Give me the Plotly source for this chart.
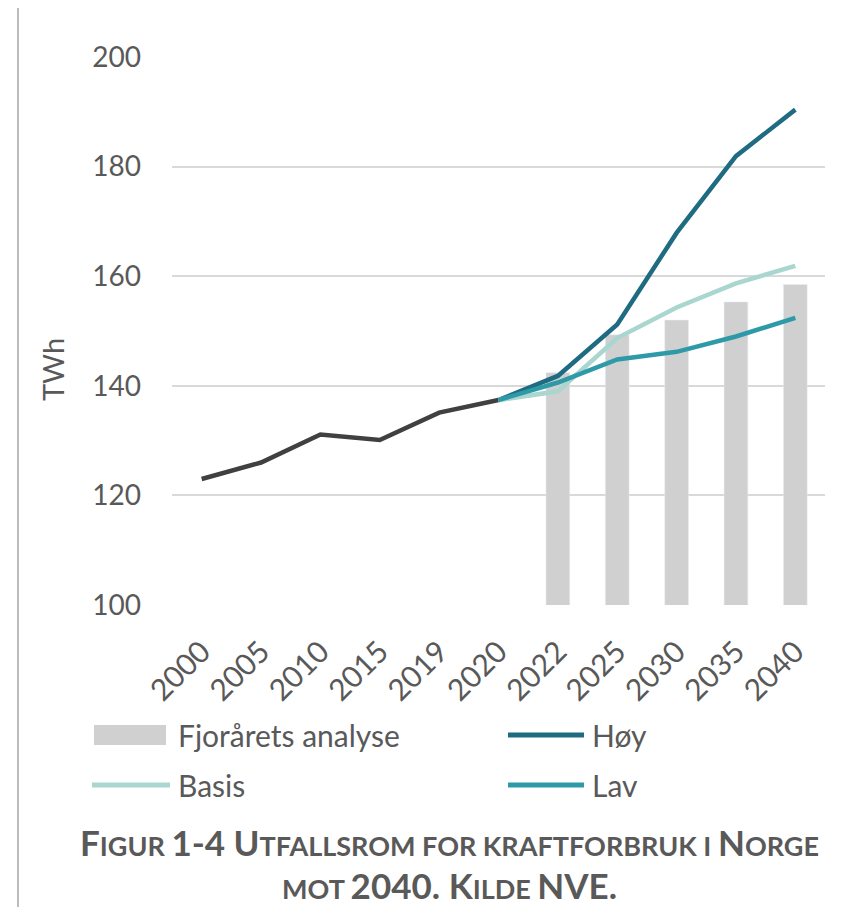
import plotly.graph_objects as go

# ---- data ----
categories = ["2000", "2005", "2010", "2015", "2019", "2020", "2022", "2025", "2030", "2035", "2040"]
hist_years = ["2000", "2005", "2010", "2015", "2019", "2020"]
hist_values = [123.0, 126.0, 131.1, 130.1, 135.1, 137.4]
bar_years = ["2022", "2025", "2030", "2035", "2040"]
bar_values = [142.4, 149.3, 152.0, 155.3, 158.5]
scen_years = ["2020", "2022", "2025", "2030", "2035", "2040"]
hoy_values = [137.4, 141.8, 151.2, 167.9, 181.9, 190.4]
basis_values = [137.4, 139.0, 148.7, 154.3, 158.7, 161.9]
lav_values = [137.4, 140.6, 144.8, 146.2, 149.0, 152.4]
y_ticks = [100, 120, 140, 160, 180, 200]

# ---- style ----
FONT = "Lato"
TXT = "#595959"
C_BAR = "#d0d0d0"
C_HIST = "#404040"
C_HOY = "#1f6b82"
C_BASIS = "#a9d6cf"
C_LAV = "#2e9aa8"

OFF = 8                 # page body margin
W, H = 862 - 2 * OFF, 915 - 2 * OFF
L, R, T, B = 172, 825, 57, 605  # plot area in reference pixels


def px(x):
    return (x - L) / (R - L)


def py(y):
    return (B - y) / (B - T)


fig = go.Figure()
fig.add_trace(go.Bar(x=bar_years, y=bar_values, marker_color=C_BAR, width=0.4,
                     name="Fjorårets analyse", showlegend=False))
fig.add_trace(go.Scatter(x=hist_years, y=hist_values, mode="lines",
                         line=dict(color=C_HIST, width=4.5), showlegend=False))
fig.add_trace(go.Scatter(x=scen_years, y=hoy_values, mode="lines", name="Høy",
                         line=dict(color=C_HOY, width=4.5), showlegend=False))
fig.add_trace(go.Scatter(x=scen_years, y=basis_values, mode="lines", name="Basis",
                         line=dict(color=C_BASIS, width=4.5), showlegend=False))
fig.add_trace(go.Scatter(x=scen_years, y=lav_values, mode="lines", name="Lav",
                         line=dict(color=C_LAV, width=4.5), showlegend=False))

fig.update_xaxes(type="category", categoryorder="array", categoryarray=categories,
                 range=[-0.5, len(categories) - 0.5], tickangle=-45,
                 tickfont=dict(family=FONT, size=30, color=TXT),
                 showgrid=False, showline=False, zeroline=False, ticks="",
                 ticklabelstandoff=22)
fig.update_yaxes(range=[100, 200], tickvals=y_ticks,
                 tickfont=dict(family=FONT, size=28, color=TXT),
                 showgrid=True, gridcolor="#d9d9d9", gridwidth=1.5, zeroline=False,
                 showline=False, ticks="", ticklabelstandoff=30)

shapes = []
annotations = []

# frame
shapes.append(dict(type="rect", xref="paper", yref="paper",
                   x0=px(18), x1=px(1000), y0=py(1100), y1=py(5),
                   line=dict(color="#a6a6a6", width=1.5), fillcolor="rgba(0,0,0,0)", layer="below"))

# y axis title
annotations.append(dict(xref="paper", yref="paper", x=px(52), y=py(370),
                        xanchor="center", yanchor="middle", text="TWh", textangle=-90,
                        showarrow=False, font=dict(family=FONT, size=29, color=TXT)))

# manual legend
LEG_FONT = dict(family=FONT, size=30, color=TXT)
legend_items = [
    ("box", C_BAR, "Fjorårets analyse", 94, 166, 735),
    ("line", C_HOY, "Høy", 508, 584, 735),
    ("line", C_BASIS, "Basis", 92, 170, 785),
    ("line", C_LAV, "Lav", 508, 584, 785),
]
for kind, col, label, x0, x1, yc in legend_items:
    if kind == "box":
        shapes.append(dict(type="rect", xref="paper", yref="paper",
                           x0=px(x0), x1=px(x1), y0=py(yc + 10), y1=py(yc - 10),
                           fillcolor=col, line=dict(width=0)))
        tx = x1 + 10
    else:
        shapes.append(dict(type="line", xref="paper", yref="paper",
                           x0=px(x0), x1=px(x1), y0=py(yc), y1=py(yc),
                           line=dict(color=col, width=5)))
        tx = x1 + 6
    annotations.append(dict(xref="paper", yref="paper", x=px(tx), y=py(yc),
                            xanchor="left", yanchor="middle", text=label,
                            showarrow=False, font=LEG_FONT))


def smallcaps(text, big=35, small=27):
    out = []
    buf = ""
    for ch in text:
        if ch.islower():
            buf += ch.upper()
        elif ch == " " and buf:
            buf += " "
        else:
            if buf:
                out.append('<span style="font-size:%dpx">%s</span>' % (small, buf))
                buf = ""
            out.append(ch)
    if buf:
        out.append('<span style="font-size:%dpx">%s</span>' % (small, buf))
    return "<b>" + "".join(out) + "</b>"


caption1 = "Figur 1-4 Utfallsrom for kraftforbruk i Norge"
caption2 = "mot 2040. Kilde NVE."
annotations.append(dict(xref="paper", yref="paper", x=px(449), y=py(842),
                        xanchor="center", yanchor="middle", text=smallcaps(caption1),
                        showarrow=False, font=dict(family=FONT, size=35, color=TXT)))
annotations.append(dict(xref="paper", yref="paper", x=px(449), y=py(885),
                        xanchor="center", yanchor="middle", text=smallcaps(caption2),
                        showarrow=False, font=dict(family=FONT, size=35, color=TXT)))

fig.update_layout(width=W, height=H,
                  margin=dict(l=L - OFF, r=W - (R - OFF), t=T - OFF, b=H - (B - OFF)),
                  paper_bgcolor="white", plot_bgcolor="white", showlegend=False,
                  bargap=0.6, shapes=shapes, annotations=annotations)

fig.write_html("out.html")
